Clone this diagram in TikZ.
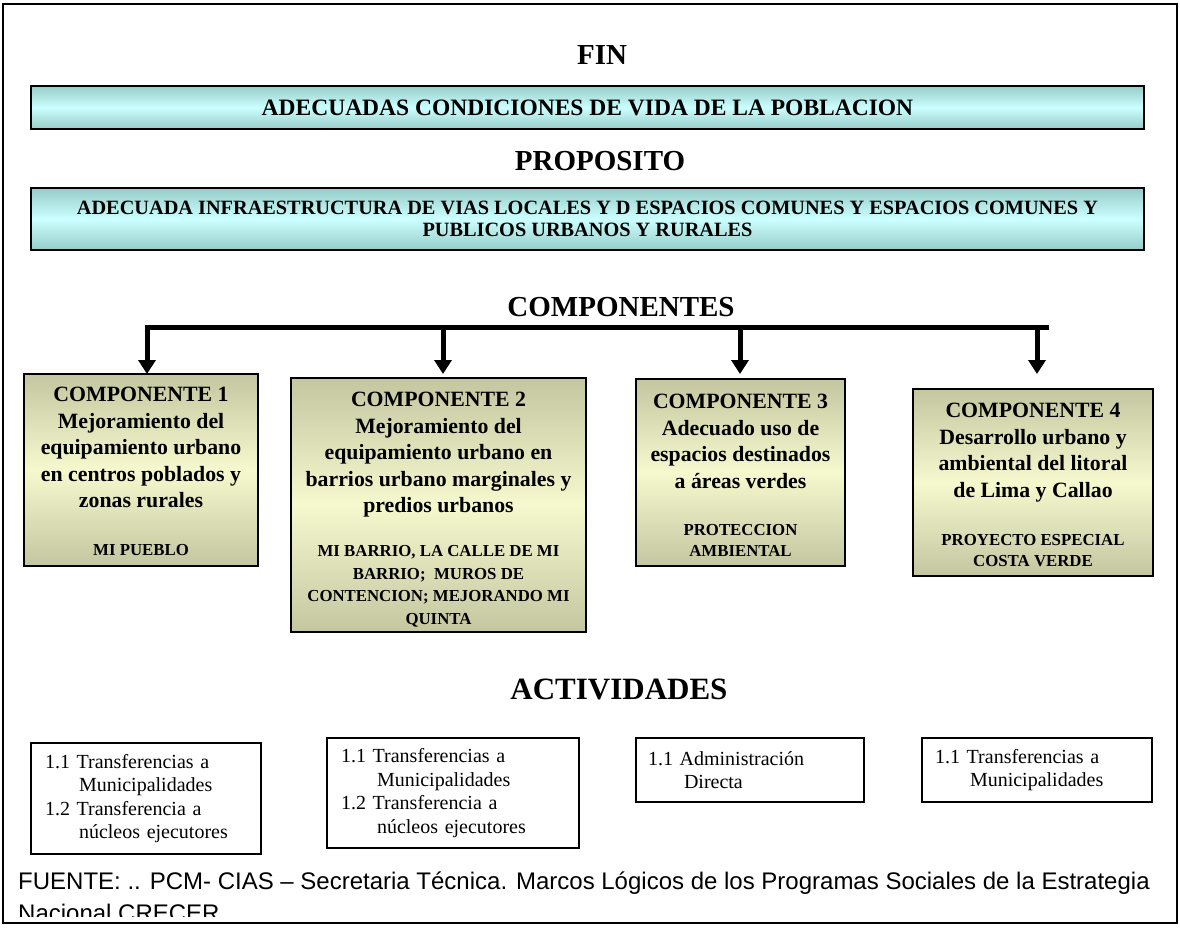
\documentclass[tikz,border=0pt]{standalone}
\usepackage{fontspec}
\setmainfont{Liberation Serif}
\newfontfamily\fuentefont{Liberation Sans}
\usetikzlibrary{arrows.meta,positioning}

\definecolor{cianborde}{RGB}{150,204,200}
\definecolor{cianclaro}{RGB}{204,255,255}
\definecolor{olivaborde}{RGB}{196,198,160}
\definecolor{olivaclaro}{RGB}{246,248,206}

\tikzset{
  titulo/.style={anchor=base,inner sep=0pt,font=\fontsize{29}{31}\selectfont\bfseries},
  franja/.style={draw,line width=1.5pt,anchor=north west,outer sep=0pt,inner sep=0pt,
    minimum width=1113pt,align=center,font=\bfseries,
    top color=cianborde,bottom color=cianborde,middle color=cianclaro},
  compcaja/.style={draw,line width=1.5pt,anchor=north west,outer sep=0pt,
    top color=olivaborde,bottom color=olivaborde,middle color=olivaclaro},
  comptexto/.style={inner sep=0pt,align=center,font=\fontsize{21.8}{26.5}\selectfont\bfseries},
  compnota/.style={inner sep=0pt,align=center,font=\fontsize{16.8}{21.5}\selectfont\bfseries},
  actcaja/.style={draw,line width=1.2pt,anchor=north west,outer sep=0pt,inner xsep=14pt,
    inner ysep=0pt,align=left,font=\fontsize{20}{23.5}\selectfont},
  flecha/.style={line width=5pt,-{Triangle[length=14pt,width=17pt]}}
}

\begin{document}
\begin{tikzpicture}[x=1pt,y=-1pt]
\useasboundingbox (0,0) rectangle (1180,927);
\draw[line width=1.5pt] (3,4) rectangle (1177,923);

\node[titulo] (fin) at (602,64) {FIN};
\node[franja,minimum height=43pt,font=\fontsize{23.5}{26}\selectfont\bfseries] (finbox) at (31,86)
  {ADECUADAS CONDICIONES DE VIDA DE LA POBLACION};
\node[titulo] (proposito) at (600,170) {PROPOSITO};
\node[franja,minimum height=62pt,font=\fontsize{20.3}{22}\selectfont\bfseries] (propbox) at (31,188)
  {ADECUADA INFRAESTRUCTURA DE VIAS LOCALES Y D ESPACIOS COMUNES Y ESPACIOS COMUNES Y\\
   PUBLICOS URBANOS Y RURALES};
\node[titulo] (componentes) at (621,316) {COMPONENTES};

\node[compcaja,minimum width=234pt,minimum height=192pt] (comp1) at (24,374) {};
\node[compcaja,minimum width=295pt,minimum height=254pt] (comp2) at (291,378) {};
\node[compcaja,minimum width=209pt,minimum height=187pt] (comp3) at (636,379) {};
\node[compcaja,minimum width=240pt,minimum height=187pt] (comp4) at (913,389) {};

\node[comptexto,below=13pt of comp1.north] (comp1txt)
  {COMPONENTE 1\\Mejoramiento del\\equipamiento urbano\\en centros poblados y\\zonas rurales};
\node[compnota,above=10pt of comp1.south] (comp1nota) {MI PUEBLO};
\node[comptexto,below=14pt of comp2.north] (comp2txt)
  {COMPONENTE 2\\Mejoramiento del\\equipamiento urbano en\\barrios urbano marginales y\\predios urbanos};
\node[compnota,above=5pt of comp2.south,font=\fontsize{16.8}{22.5}\selectfont\bfseries] (comp2nota)
  {MI BARRIO, LA CALLE DE MI\\BARRIO;\ \ MUROS DE\\CONTENCION; MEJORANDO MI\\QUINTA};
\node[comptexto,below=15pt of comp3.north] (comp3txt)
  {COMPONENTE 3\\Adecuado uso de\\espacios destinados\\a áreas verdes};
\node[compnota,above=9pt of comp3.south] (comp3nota) {PROTECCION\\AMBIENTAL};
\node[comptexto,below=14pt of comp4.north] (comp4txt)
  {COMPONENTE 4\\Desarrollo urbano y\\ambiental del litoral\\de Lima y Callao};
\node[compnota,above=9pt of comp4.south] (comp4nota) {PROYECTO ESPECIAL\\COSTA VERDE};

\foreach \x [count=\n] in {147,443,740,1037}
  \coordinate (b\n) at (\x,327);
\coordinate (barfin) at (1046,327);
\draw[line width=5pt,line cap=rect] (b1) -- (barfin);
\foreach \n in {1,...,4}
  \draw[flecha] (b\n) -- (b\n |- comp1.north);

\node[titulo,font=\fontsize{31}{33}\selectfont\bfseries] (actividades) at (619,699) {ACTIVIDADES};

\node[actcaja,minimum width=230pt,minimum height=111pt,text width=202pt] (act1) at (31,743)
  {1.1 Transferencias a\\\hspace*{34pt}Municipalidades\\1.2 Transferencia a\\\hspace*{34pt}núcleos ejecutores};
\node[actcaja,minimum width=252pt,minimum height=110pt,text width=224pt] (act2) at (327,738)
  {1.1 Transferencias a\\\hspace*{36pt}Municipalidades\\1.2 Transferencia a\\\hspace*{36pt}núcleos ejecutores};
\node[actcaja,minimum width=228pt,minimum height=64pt,inner xsep=12pt,text width=204pt] (act3) at (636,738)
  {1.1 Administración\\\hspace*{36pt}Directa};
\node[actcaja,minimum width=230pt,minimum height=64pt,inner xsep=13pt,text width=204pt] (act4) at (922,738)
  {1.1 Transferencias a\\\hspace*{35pt}Municipalidades};

\begin{scope}
\clip (3,4) rectangle (1177,916);
\node[anchor=base west,inner sep=0pt,font=\fuentefont\fontsize{24}{26}\selectfont] (fuente) at (18,889)
  {FUENTE: .. PCM- CIAS – Secretaria Técnica. Marcos Lógicos de los Programas Sociales de la Estrategia};
\node[anchor=base west,inner sep=0pt,font=\fuentefont\fontsize{24}{26}\selectfont] (fuente2) at (18,921)
  {Nacional CRECER};
\end{scope}
\end{tikzpicture}
\end{document}
